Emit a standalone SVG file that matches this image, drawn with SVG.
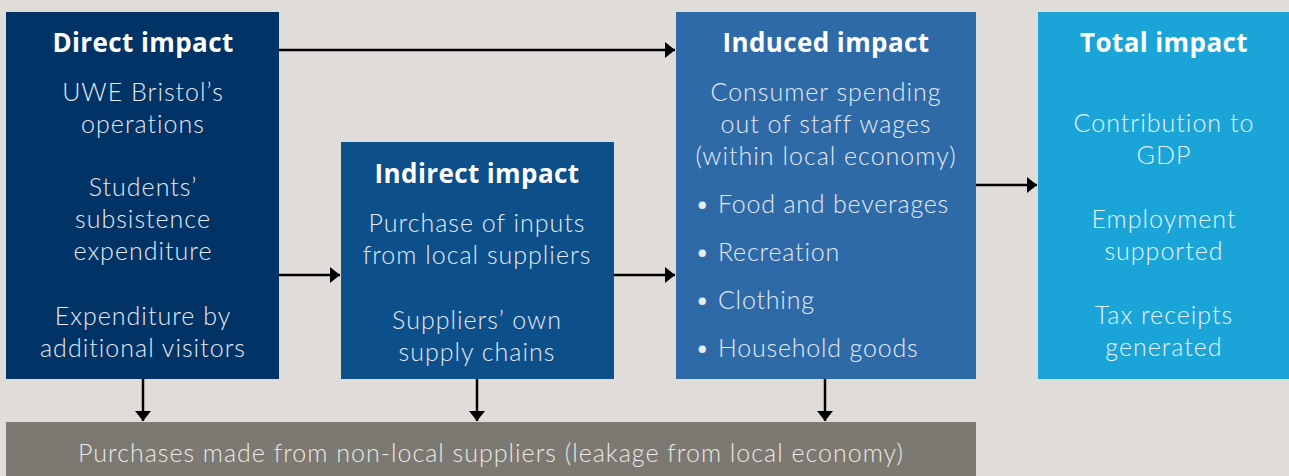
<svg xmlns="http://www.w3.org/2000/svg" width="1289" height="476" viewBox="0 0 1289 476">
<style>
.t{font-family:"Open Sans","Liberation Sans",sans-serif;font-weight:700;font-size:26px;fill:#ffffff;text-anchor:middle;letter-spacing:0.4px}
.b{font-family:"Lato","Open Sans","Liberation Sans",sans-serif;font-weight:300;font-size:25px;fill:#e4eaf2;text-anchor:middle;letter-spacing:1px}
.l{text-anchor:start;letter-spacing:0.8px}
.w{fill:#e6f4fb}
.c{stroke:#000;stroke-width:2.5;fill:none}
</style>
<defs>
<marker id="ah" viewBox="0 0 10 16" refX="10" refY="8" markerWidth="10" markerHeight="16" markerUnits="userSpaceOnUse" orient="auto">
<path d="M0,0 L10,8 L0,16 Z" fill="#000"/>
</marker>
</defs>
<rect width="1289" height="476" fill="#dfdcd9"/>
<g id="direct">
<rect x="6" y="12" width="273" height="367" fill="#023366"/>
<text class="t" x="143" y="52">Direct impact</text>
<text class="b" x="143" y="101">UWE Bristol’s</text>
<text class="b" x="143" y="133">operations</text>
<text class="b" x="143" y="196">Students’</text>
<text class="b" x="143" y="228">subsistence</text>
<text class="b" x="143" y="260">expenditure</text>
<text class="b" x="143" y="325">Expenditure by</text>
<text class="b" x="143" y="357">additional visitors</text>
</g>
<g id="indirect">
<rect x="341" y="142" width="273" height="237" fill="#0d4f8a"/>
<text class="t" x="477" y="183">Indirect impact</text>
<text class="b" x="477" y="232">Purchase of inputs</text>
<text class="b" x="477" y="264">from local suppliers</text>
<text class="b" x="477" y="329">Suppliers’ own</text>
<text class="b" x="477" y="361">supply chains</text>
</g>
<g id="induced">
<rect x="676" y="12" width="300" height="367" fill="#2f6aa8"/>
<text class="t" x="826" y="52">Induced impact</text>
<text class="b" x="826" y="101">Consumer spending</text>
<text class="b" x="826" y="133">out of staff wages</text>
<text class="b" x="826" y="165">(within local economy)</text>
<text class="b l" x="695" y="213">• Food and beverages</text>
<text class="b l" x="695" y="261">• Recreation</text>
<text class="b l" x="695" y="309">• Clothing</text>
<text class="b l" x="695" y="357">• Household goods</text>
</g>
<g id="total">
<rect x="1038" y="12" width="251" height="367" fill="#1ba4d8"/>
<text class="t" x="1164" y="52">Total impact</text>
<text class="b w" x="1164" y="132">Contribution to</text>
<text class="b w" x="1164" y="164">GDP</text>
<text class="b w" x="1164" y="228">Employment</text>
<text class="b w" x="1164" y="260">supported</text>
<text class="b w" x="1164" y="324">Tax receipts</text>
<text class="b w" x="1164" y="356">generated</text>
</g>
<g id="leakage">
<rect x="6" y="422" width="970" height="54" fill="#7c7872"/>
<text class="b" x="491" y="462" style="fill:#ebe9e6">Purchases made from non-local suppliers (leakage from local economy)</text>
</g>
<g id="connectors">
<line class="c" x1="279" y1="50" x2="675" y2="50" marker-end="url(#ah)"/>
<line class="c" x1="279" y1="275" x2="340" y2="275" marker-end="url(#ah)"/>
<line class="c" x1="614" y1="275" x2="675" y2="275" marker-end="url(#ah)"/>
<line class="c" x1="976" y1="185" x2="1037" y2="185" marker-end="url(#ah)"/>
<line class="c" x1="143" y1="379" x2="143" y2="421" marker-end="url(#ah)"/>
<line class="c" x1="477" y1="379" x2="477" y2="421" marker-end="url(#ah)"/>
<line class="c" x1="825" y1="379" x2="825" y2="421" marker-end="url(#ah)"/>
</g>
</svg>
